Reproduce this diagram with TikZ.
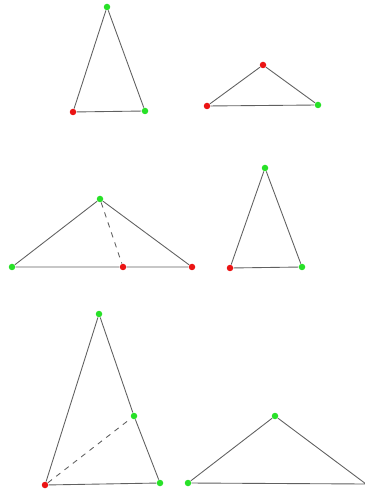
\documentclass[tikz,border=0pt]{standalone}
\usepackage{xcolor}
\usepackage{tikz}
\usetikzlibrary{positioning}
\definecolor{ptred}{RGB}{235,20,20}
\definecolor{ptgreen}{RGB}{40,225,40}

\begin{document}
\begin{tikzpicture}[
  x=0.02cm, y=-0.02cm,
  side/.style={draw=gray!75!black, line width=0.5pt},
  cut/.style={side, dashed},
  rdot/.style={circle, fill=ptred, inner sep=0pt, minimum size=0.13cm},
  gdot/.style={circle, fill=ptgreen, inner sep=0pt, minimum size=0.13cm}
]
\useasboundingbox (0,0) rectangle (364,492);
% top row
\node[gdot] (a1) at (107,7) {};
\node[rdot] (b1) at (73,112) {};
\node[gdot] (c1) at (145,111) {};
\draw[side] (a1) -- (b1) -- (c1) -- (a1);
\node[rdot] (a2) at (263,65) {};
\node[rdot] (b2) at (207,106) {};
\node[gdot] (c2) at (318,105) {};
\draw[side] (a2) -- (b2) -- (c2) -- (a2);
% middle row
\node[gdot] (a3) at (100,199) {};
\node[gdot] (b3) at (12,267) {};
\node[rdot] (m3) at (123,267) {};
\node[rdot] (c3) at (192,267) {};
\draw[side] (a3) -- (b3) -- (m3) -- (c3) -- (a3);
\draw[cut] (a3) -- (m3);
\node[gdot] (a4) at (265,168) {};
\node[rdot] (b4) at (230,268) {};
\node[gdot] (c4) at (302,267) {};
\draw[side] (a4) -- (b4) -- (c4) -- (a4);
% bottom row
\node[gdot] (a5) at (99,314) {};
\node[gdot] (m5) at (134,416) {};
\node[rdot] (b5) at (45,485) {};
\node[gdot] (c5) at (160,483) {};
\draw[side] (a5) -- (b5) -- (c5) -- (m5) -- (a5);
\draw[cut] (b5) -- (m5);
\node[gdot] (a6) at (275,416) {};
\node[gdot] (b6) at (188,483) {};
\coordinate (c6) at (366,484);
\draw[side] (a6) -- (b6) -- (c6) -- (a6);
\end{tikzpicture}
\end{document}
